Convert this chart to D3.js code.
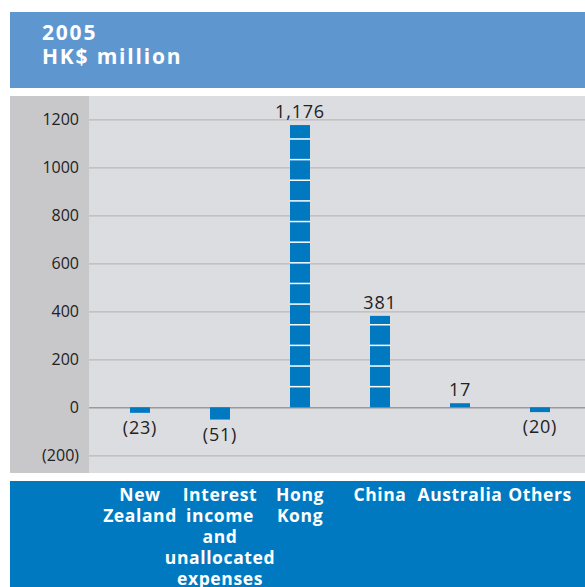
<!DOCTYPE html>
<html>
<head>
<meta charset="utf-8">
<script src="https://cdn.jsdelivr.net/npm/d3@7"></script>
<style>
  body { margin: 0; background: #fff; }
  text { font-family: "Open Sans", sans-serif; }
</style>
</head>
<body>
<svg id="chart" width="585" height="587"></svg>
<script>
// data
const titleLines = ['2005', 'HK$ million']
const categories = ['New Zealand', 'Interest income and unallocated expenses', 'Hong Kong', 'China', 'Australia', 'Others']
const categoryLines = [['New', 'Zealand'], ['Interest', 'income', 'and', 'unallocated', 'expenses'], ['Hong', 'Kong'], ['China'], ['Australia'], ['Others']]
const values = [-23, -51, 1176, 381, 17, -20]
const valueLabels = ['(23)', '(51)', '1,176', '381', '17', '(20)']
const yTicks = [-200, 0, 200, 400, 600, 800, 1000, 1200]
const yTickLabels = ['(200)', '0', '200', '400', '600', '800', '1000', '1200']

let svg = d3.select('#chart')

// header band
svg.append('rect').attr('x', 10).attr('y', 12).attr('width', 575).attr('height', 76).attr('fill', '#5e97d0')
svg.selectAll('.title')
    .data(titleLines)
    .enter()
    .append('text')
        .attr('x', 42)
        .attr('y', (d, i) => 39.5 + i * 24)
        .attr('fill', '#fff')
        .attr('font-weight', 'bold')
        .attr('font-size', 21)
        .attr('letter-spacing', 1.8)
        .text(d => d)

// chart panel
svg.append('rect').attr('x', 10).attr('y', 96).attr('width', 79).attr('height', 377).attr('fill', '#c8c8ca')
svg.append('rect').attr('x', 89).attr('y', 96).attr('width', 496).attr('height', 377).attr('fill', '#dcdde0')

let x = d3.scaleBand().domain(categories).range([100, 580]).paddingInner(0.75).paddingOuter(0.375)
let y = d3.scaleLinear().domain([-200, 1200]).range([455.3, 119.3])

// gridlines
let yAxis = d3.axisLeft(y).tickValues(yTicks).tickSize(-496).tickPadding(10)
    .tickFormat((d, i) => yTickLabels[i])
let axisG = svg.append('g').attr('transform', 'translate(89,0)').call(yAxis)
axisG.select('.domain').remove()
axisG.selectAll('.tick line')
    .attr('stroke', d => d == 0 ? '#9a9a9c' : '#b9b9bb')
    .attr('stroke-width', d => d == 0 ? 1.5 : 1.2)
axisG.selectAll('.tick text')
    .attr('x', -10)
    .attr('font-size', 16)
    .attr('font-family', '"Open Sans", sans-serif')
    .attr('fill', '#222')

// bars
let bars = svg.append('g')
bars.selectAll('rect')
    .data(values)
    .enter()
    .append('rect')
        .attr('x', (d, i) => x(categories[i]))
        .attr('y', d => y(Math.max(0, d)))
        .attr('width', x.bandwidth())
        .attr('height', d => Math.abs(y(d) - y(0)))
        .attr('fill', '#0079c1')

// white stripes across the tall bars
const stripeStep = 86
values.forEach((v, i) => {
    if(v <= stripeStep) return
    bars.selectAll('.stripe' + i)
        .data(d3.range(stripeStep, v, stripeStep))
        .enter()
        .append('line')
            .attr('x1', x(categories[i]))
            .attr('x2', x(categories[i]) + x.bandwidth())
            .attr('y1', d => y(d))
            .attr('y2', d => y(d))
            .attr('stroke', '#fff')
            .attr('stroke-width', 1.5)
})

// value labels
svg.selectAll('.vlabel')
    .data(values)
    .enter()
    .append('text')
        .attr('x', (d, i) => x(categories[i]) + x.bandwidth() / 2)
        .attr('y', d => d >= 0 ? y(d) - 7 : y(d) + 21)
        .attr('text-anchor', 'middle')
        .attr('font-size', 18)
        .attr('letter-spacing', 0.8)
        .attr('fill', '#222')
        .text((d, i) => valueLabels[i])

// category band
svg.append('rect').attr('x', 10).attr('y', 481).attr('width', 575).attr('height', 106).attr('fill', '#0079c1')
categoryLines.forEach((lines, i) => {
    let cx = x(categories[i]) + x.bandwidth() / 2
    svg.append('text')
        .attr('x', cx)
        .attr('y', 500.5)
        .attr('text-anchor', 'middle')
        .attr('fill', '#fff')
        .attr('font-weight', 'bold')
        .attr('font-size', 17.5)
        .attr('letter-spacing', 0.6)
        .selectAll('tspan')
        .data(lines)
        .enter()
        .append('tspan')
            .attr('x', cx)
            .attr('dy', (d, j) => j == 0 ? 0 : 21)
            .text(d => d)
})
</script>
</body>
</html>
